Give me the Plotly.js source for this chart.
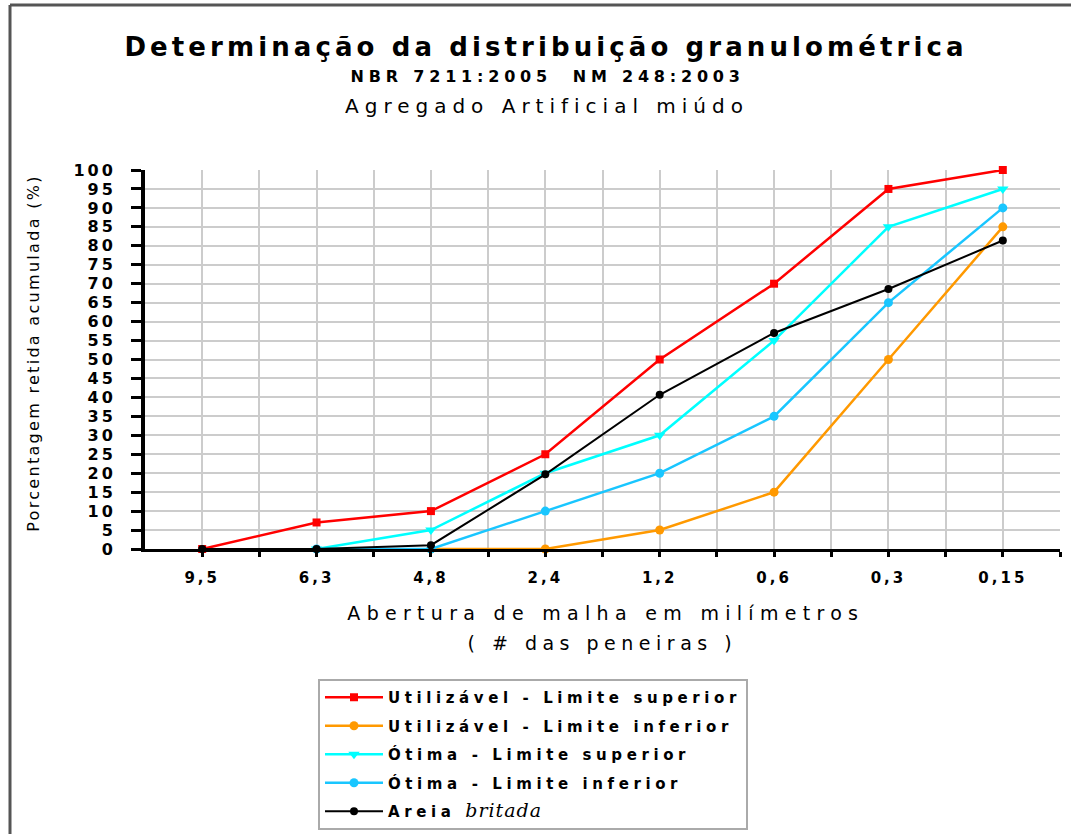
<!DOCTYPE html>
<html>
<head>
<meta charset="utf-8">
<script src="https://cdn.plot.ly/plotly-3.0.1.min.js"></script>
<style>
  html, body { margin: 0; padding: 0; background: #fff; }
  #chart { width: 1071px; height: 834px; }
  .gtitle { letter-spacing: 4.1px; }
  .annotation[data-index="0"] .annotation-text { letter-spacing: 4.8px; }
  .annotation[data-index="1"] .annotation-text { letter-spacing: 6px; }
  .annotation[data-index="2"] .annotation-text { letter-spacing: 6.3px; }
  .annotation[data-index="3"] .annotation-text { letter-spacing: 5.5px; }
  .annotation[data-index="4"] .annotation-text { letter-spacing: 2.3px; }
  .xtick text { letter-spacing: 3px; }
  .ytick text { letter-spacing: 3px; }
  .legendtext { letter-spacing: 4.6px; }
</style>
</head>
<body>
<div id="chart"></div>
<script>
// Sieve openings (mm) – category labels
const sieves = ['9,5', '6,3', '4,8', '2,4', '1,2', '0,6', '0,3', '0,15'];

// Cumulative retained percentage (%)
const utilizavelSuperior = [0, 7, 10, 25, 50, 70, 95, 100];
const utilizavelInferior = [null, null, 0, 0, 5, 15, 50, 85];
const otimaSuperior      = [null, 0, 5, 20, 30, 55, 85, 95];
const otimaInferior      = [null, 0, 0, 10, 20, 35, 65, 90];
const areiaBritada       = [0, 0, 1, 19.7, 40.7, 57, 68.6, 81.4];

const seriesNames = [
  'Utilizável - Limite superior',
  'Utilizável - Limite inferior',
  'Ótima - Limite superior',
  'Ótima - Limite inferior',
  'Areia <span style="font-family:\'DejaVu Serif\',serif;font-style:italic;font-weight:normal;font-size:19px;letter-spacing:1px">britada</span>'
];

const yTicks = [0,5,10,15,20,25,30,35,40,45,50,55,60,65,70,75,80,85,90,95,100];

// x positions are the category indices
const xIdx = sieves.map((_, i) => i);
const xTickVals = [];
const xTickText = [];
sieves.forEach((s, i) => {
  xTickVals.push(i); xTickText.push(s);
  xTickVals.push(i + 0.5); xTickText.push('');
});

function tr(y, name, color, symbol, size, lw, grp) {
  return {
    x: xIdx, y: y, name: name, type: 'scatter', mode: 'lines+markers',
    line: { color: color, width: lw },
    marker: { color: color, symbol: symbol, size: size },
    cliponaxis: false, legendgroup: grp, connectgaps: false
  };
}

const data = [
  tr(utilizavelSuperior, seriesNames[0], '#ff0000', 'square', 8, 2.5, 'a'),
  tr(utilizavelInferior, seriesNames[1], '#ff9900', 'circle', 9, 2.5, 'b'),
  tr(otimaSuperior,      seriesNames[2], '#00ffff', 'triangle-down', 10, 2.5, 'c'),
  tr(otimaInferior,      seriesNames[3], '#19c6ff', 'circle', 9, 2.5, 'd'),
  tr(areiaBritada,       seriesNames[4], '#000000', 'circle', 8, 2, 'e')
];

// pixel helpers for paper coordinates (plot area: x 145..1060, y 170..549)
const L = 145, R = 11, T = 170, B = 285, W = 1071, H = 834;
const pw = W - L - R, ph = H - T - B;
const px = v => (v - L) / pw;
const py = v => (H - B - v) / ph;

const layout = {
  width: W, height: H,
  margin: { l: L, r: R, t: T, b: B, autoexpand: false },
  paper_bgcolor: '#ffffff', plot_bgcolor: '#ffffff',
  showlegend: true,
  title: {
    text: '<b>Determinação da distribuição granulométrica</b>',
    font: { family: 'DejaVu Sans, sans-serif', size: 26, color: '#000' },
    x: 546 / W, xanchor: 'center', xref: 'container',
    y: 1 - 47 / H, yanchor: 'middle', yref: 'container'
  },
  xaxis: {
    range: [-0.5, 7.5], tickmode: 'array', tickvals: xTickVals, ticktext: xTickText,
    showgrid: true, gridcolor: '#cccccc', gridwidth: 2,
    showline: true, linecolor: '#000', linewidth: 3,
    ticks: 'outside', ticklen: 5, tickwidth: 3, tickcolor: '#000',
    ticklabelstandoff: 8,
    tickfont: { family: 'DejaVu Sans, sans-serif', size: 15, color: '#000', weight: 'bold' },
    zeroline: false, fixedrange: true
  },
  yaxis: {
    range: [0, 100], tickmode: 'array', tickvals: yTicks,
    showgrid: true, gridcolor: '#cccccc', gridwidth: 2,
    showline: true, linecolor: '#000', linewidth: 4,
    ticks: 'outside', ticklen: 10, tickwidth: 3, tickcolor: '#000',
    ticklabelstandoff: 12,
    tickfont: { family: 'DejaVu Sans, sans-serif', size: 16, color: '#000', weight: 'bold' },
    zeroline: false, fixedrange: true
  },
  legend: {
    x: px(318), y: py(679), xanchor: 'left', yanchor: 'top',
    xref: 'paper', yref: 'paper',
    bgcolor: '#ffffff', bordercolor: '#aaaaaa', borderwidth: 2,
    font: { family: 'DejaVu Sans, sans-serif', size: 15, color: '#000', weight: 'bold' },
    traceorder: 'grouped', tracegroupgap: 6, itemwidth: 58
  },
  annotations: [
    { text: '<b>NBR 7211:2005  NM 248:2003</b>', xref: 'paper', yref: 'paper',
      x: px(547), y: py(76), showarrow: false, xanchor: 'center', yanchor: 'middle',
      font: { family: 'DejaVu Sans, sans-serif', size: 16, color: '#000' } },
    { text: 'Agregado Artificial miúdo', xref: 'paper', yref: 'paper',
      x: px(547), y: py(106), showarrow: false, xanchor: 'center', yanchor: 'middle',
      font: { family: 'DejaVu Sans, sans-serif', size: 20, color: '#000' } },
    { text: 'Abertura de malha em milímetros', xref: 'paper', yref: 'paper',
      x: px(606), y: py(613), showarrow: false, xanchor: 'center', yanchor: 'middle',
      font: { family: 'DejaVu Sans, sans-serif', size: 19, color: '#000' } },
    { text: '( # das peneiras )', xref: 'paper', yref: 'paper',
      x: px(602), y: py(643), showarrow: false, xanchor: 'center', yanchor: 'middle',
      font: { family: 'DejaVu Sans, sans-serif', size: 19, color: '#000' } },
    { text: 'Porcentagem retida acumulada (%)', xref: 'paper', yref: 'paper',
      x: px(33), y: py(353), showarrow: false, xanchor: 'center', yanchor: 'middle',
      textangle: -90,
      font: { family: 'DejaVu Sans, sans-serif', size: 16, color: '#000' } }
  ],
  shapes: [
    { type: 'line', xref: 'paper', yref: 'paper', x0: px(10), x1: px(10), y0: py(5), y1: py(834),
      line: { color: '#555555', width: 3 } },
    { type: 'line', xref: 'paper', yref: 'paper', x0: px(10), x1: px(1071), y0: py(5), y1: py(5),
      line: { color: '#555555', width: 3 } }
  ]
};

Plotly.newPlot('chart', data, layout, { displayModeBar: false, staticPlot: true });
</script>
</body>
</html>
